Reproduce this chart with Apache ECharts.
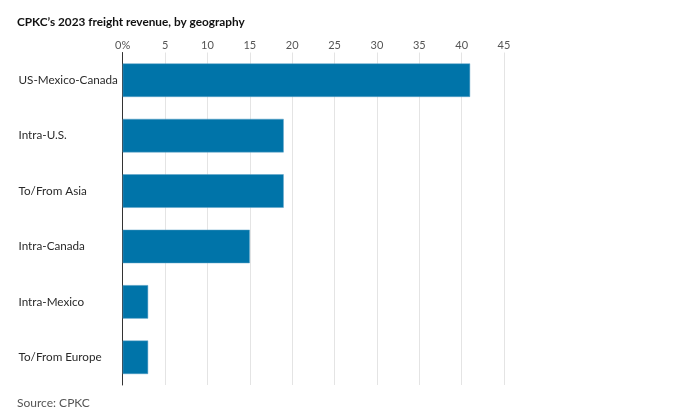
<!DOCTYPE html>
<html><head><meta charset="utf-8">
<script src="https://cdn.jsdelivr.net/npm/echarts@6/dist/echarts.min.js"></script>
<style>html,body{margin:0;padding:0;background:#fff}#c{width:690px;height:418px}</style>
</head><body><div id="c"></div>
<script>
const categories = ["US-Mexico-Canada","Intra-U.S.","To/From Asia","Intra-Canada","Intra-Mexico","To/From Europe"];
const values = [41, 19, 19, 15, 3, 3];
const tickLabels = ["0%","5","10","15","20","25","30","35","40","45"];
const titleText = "CPKC\u2019s 2023 freight revenue, by geography";
const sourceText = "Source: CPKC";

const chart = echarts.init(document.getElementById('c'), null, {renderer:'canvas'});
chart.setOption({
  animation:false,
  backgroundColor:'#fff',
  title:[
    {text:titleText,left:17,top:16.5,padding:0,textStyle:{fontFamily:'Lato',fontWeight:'bold',fontSize:11.8,color:'#111'}},
    {text:sourceText,left:17,top:397,padding:0,textStyle:{fontFamily:'Lato',fontWeight:'normal',fontSize:12,color:'#555'}}
  ],
  grid:{left:122.7,right:186,top:52.5,height:332.5,containLabel:false},
  xAxis:{type:'value',position:'top',min:0,max:45,interval:5,
    axisLine:{show:false},axisTick:{show:false},
    splitLine:{show:true,lineStyle:{color:'#e4e4e4',width:1}},
    axisLabel:{margin:2,fontFamily:'Lato',fontSize:11,color:'#555',
      formatter:(v)=>tickLabels[Math.round(v/5)]}},
  yAxis:{type:'category',data:categories,inverse:true,
    axisLine:{show:true,lineStyle:{color:'#333',width:1}},
    axisTick:{show:false},
    axisLabel:{align:'left',margin:104.2,padding:[6,0,0,0],fontFamily:'Lato',fontSize:11.7,color:'#2a2a2a'}},
  series:[{type:'bar',data:values,barWidth:33.5,
    itemStyle:{color:'#0074a9',borderColor:'#5fa3c8',borderWidth:0.5},silent:true}]
});
</script></body></html>
